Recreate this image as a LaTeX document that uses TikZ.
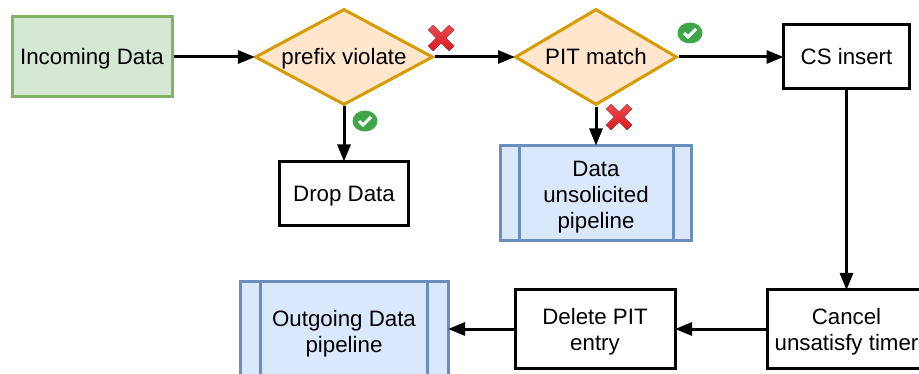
\documentclass[tikz,border=0pt]{standalone}
\usepackage{fontspec}
\setmainfont{Liberation Sans}
\usetikzlibrary{arrows.meta,shapes.geometric}
\definecolor{grnF}{HTML}{D5E8D4}\definecolor{grnD}{HTML}{82B366}
\definecolor{orgF}{HTML}{FFE6CC}\definecolor{orgD}{HTML}{D79B00}
\definecolor{bluF}{HTML}{DAE8FC}\definecolor{bluD}{HTML}{6C8EBF}
\definecolor{xTop}{HTML}{EE4A52}\definecolor{xBot}{HTML}{DA1820}
\definecolor{okG}{HTML}{3FA648}
\tikzset{
 x=1pt,y=-1pt,
 every node/.style={font=\fontsize{22.3}{26}\selectfont,align=center,inner sep=0pt,text=black},
 oneline/.style={text height=16pt,text depth=0pt},
 lowered/.style={text height=#1,text depth=4.6pt},
 greenbox/.style={draw=grnD,fill=grnF,line width=3pt,minimum width=#1,minimum height=80pt},
 plainbox/.style={draw=black,fill=white,line width=3pt},
 decide/.style={diamond,shape aspect=1.8,draw=orgD,fill=orgF,line width=3pt,minimum height=96pt},
 pipebox/.style={draw=bluD,fill=bluF,line width=3pt},
 pipeline/.style={draw=bluD,line width=3pt},
 flow/.style={draw=black,line width=3pt,-{Triangle[length=17pt,width=13pt]},shorten >=-1.5pt},
 crossmark/.pic={\fill[top color=xTop,bottom color=xBot] (-8,-13)--(0,-5)--(8,-13)--(13,-8)--(5,0)--(13,8)--(8,13)--(0,5)--(-8,13)--(-13,8)--(-5,0)--(-13,-8)--cycle;},
 checkmark/.pic={\fill[okG] (0,0) ellipse[x radius=12.5pt,y radius=10.5pt];
   \draw[white,line width=3pt] (-6,0)--(-2,4)--(6,-4);}
}
\begin{document}
\begin{tikzpicture}
\path[use as bounding box] (0,0) rectangle (919,374);
\clip (0,0) rectangle (919,374);
\node[greenbox=160pt,oneline] (inc) at (92,57) {Incoming Data};
\node[decide,minimum width=178pt,oneline] (pv) at (344,57) {prefix violate};
\node[decide,minimum width=162pt,oneline] (pit) at (596,57) {PIT match};
\node[plainbox,minimum width=126pt,minimum height=64pt,oneline] (cs) at (846.5,57) {CS insert};
\node[plainbox,minimum width=129pt,minimum height=64pt,oneline] (drop) at (344,193.5) {Drop Data};
\node[pipebox,minimum width=191pt,minimum height=95pt,lowered=76pt] (uns) at (596,193) {Data\\unsolicited\\pipeline};
\draw[pipeline] (uns.north west -| 519,0)--(uns.south west -| 519,0) (uns.north west -| 673,0)--(uns.south west -| 673,0);
\node[plainbox,minimum width=159pt,minimum height=78pt,lowered=48pt] (can) at (846.5,329) {Cancel\\unsatisfy timer};
\node[plainbox,minimum width=160pt,minimum height=78pt,lowered=48pt] (del) at (595,329) {Delete PIT\\entry};
\node[pipebox,minimum width=208pt,minimum height=95pt,lowered=52pt] (out) at (344,329) {Outgoing Data\\pipeline};
\draw[pipeline] (out.north west -| 260,0)--(out.south west -| 260,0) (out.north west -| 427,0)--(out.south west -| 427,0);
\draw[flow] (inc)--(pv);
\draw[flow] (pv)--(pit);
\draw[flow] (pit)--(cs);
\draw[flow] (pv)--(drop);
\draw[flow] (pit)--(uns);
\draw[flow] (cs)--(can);
\draw[flow] (can)--(del);
\draw[flow] (del)--(out);
\pic at (441,38) {crossmark};
\pic at (619,117) {crossmark};
\pic at (690,33) {checkmark};
\pic at (365,121) {checkmark};
\end{tikzpicture}
\end{document}
